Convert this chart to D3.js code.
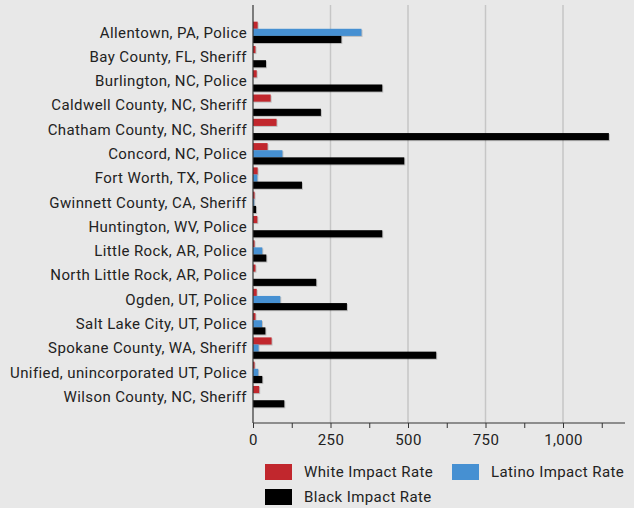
<!DOCTYPE html>
<html>
<head>
<meta charset="utf-8">
<script src="https://cdn.jsdelivr.net/npm/d3@7"></script>
<style>
  html, body { margin: 0; padding: 0; background: #e8e8e8; }
  svg { display: block; }
  text { font-family: Roboto, "DejaVu Sans", sans-serif; fill: #222; letter-spacing: 0.4px; }
</style>
</head>
<body>
<svg id="chart" width="634" height="508"></svg>
<script>
const categories = [
  "Allentown, PA, Police",
  "Bay County, FL, Sheriff",
  "Burlington, NC, Police",
  "Caldwell County, NC, Sheriff",
  "Chatham County, NC, Sheriff",
  "Concord, NC, Police",
  "Fort Worth, TX, Police",
  "Gwinnett County, CA, Sheriff",
  "Huntington, WV, Police",
  "Little Rock, AR, Police",
  "North Little Rock, AR, Police",
  "Ogden, UT, Police",
  "Salt Lake City, UT, Police",
  "Spokane County, WA, Sheriff",
  "Unified, unincorporated UT, Police",
  "Wilson County, NC, Sheriff"
];
const seriesNames = ["White Impact Rate", "Latino Impact Rate", "Black Impact Rate"];
const whiteRate  = [15, 8, 12, 57, 76, 47, 15, 5, 14, 5, 8, 12, 8, 60, 5, 20];
const latinoRate = [350, 0, 0, 0, 0, 95, 14, 4, 0, 30, 0, 88, 29, 18, 17, 0];
const blackRate  = [285, 42, 417, 219, 1148, 488, 158, 10, 417, 43, 204, 303, 40, 591, 30, 101];
const xTicks = [0, 250, 500, 750, 1000];
const colors = ["#c1272d", "#4690d2", "#000000"];

const svg = d3.select("#chart");
const x = d3.scaleLinear().domain([0, 1200]).range([253, 625]);
const y0 = d3.scaleBand().domain(categories).range([20.2, 408.8]).paddingInner(0.12).paddingOuter(0.06);
const y1 = d3.scaleBand().domain(seriesNames).range([0, y0.bandwidth()]);

const plotTop = 5, plotBottom = 423;

// gridlines
svg.append("g").selectAll("line").data(xTicks.slice(1)).join("line")
  .attr("x1", d => x(d)).attr("x2", d => x(d))
  .attr("y1", plotTop).attr("y2", plotBottom)
  .attr("stroke", "#c6c6c6").attr("stroke-width", 1.5);

const rows = categories.map((c, i) => ({ cat: c, vals: [whiteRate[i], latinoRate[i], blackRate[i]] }));

const groups = svg.append("g").selectAll("g").data(rows).join("g")
  .attr("transform", d => `translate(0,${y0(d.cat)})`);

// subtle shadow
groups.selectAll("rect.shadow").data(d => d.vals.map((v, k) => ({ v, k })).filter(d => d.v > 0)).join("rect")
  .attr("class", "shadow")
  .attr("x", x(0) + 1)
  .attr("y", d => y1(seriesNames[d.k]) + 1)
  .attr("width", d => x(d.v) - x(0))
  .attr("height", y1.bandwidth())
  .attr("fill", "rgba(0,0,0,0.18)");

groups.selectAll("rect.bar").data(d => d.vals.map((v, k) => ({ v, k }))).join("rect")
  .attr("class", "bar")
  .attr("x", x(0))
  .attr("y", d => y1(seriesNames[d.k]))
  .attr("width", d => Math.max(0, x(d.v) - x(0)))
  .attr("height", y1.bandwidth())
  .attr("fill", d => colors[d.k]);

// category labels
svg.append("g").selectAll("text").data(categories).join("text")
  .attr("x", 247)
  .attr("y", d => y0(d) + y0.bandwidth() / 2)
  .attr("dy", "0.35em")
  .attr("text-anchor", "end")
  .attr("font-size", 15)
  .text(d => d);

// y axis line
svg.append("line")
  .attr("x1", x(0)).attr("x2", x(0))
  .attr("y1", plotTop).attr("y2", plotBottom)
  .attr("stroke", "#333").attr("stroke-width", 1.2);

// x axis
const xAxis = d3.axisBottom(x)
  .tickValues(d3.range(0, 1201, 125))
  .tickSize(5)
  .tickFormat(d => xTicks.includes(d) ? d3.format(",")(d) : "");
const gx = svg.append("g").attr("transform", `translate(0,${plotBottom})`).call(xAxis);
gx.select(".domain").attr("stroke", "#333").attr("stroke-width", 1.2).attr("d", `M${x(0)},0H${x(1200)}`);
gx.selectAll(".tick line").attr("stroke", "#333");
gx.selectAll(".tick text").attr("font-size", 15).attr("font-family", "Roboto, sans-serif").attr("fill", "#222").attr("dy", "0.9em");

// legend
const legendItems = [
  { name: seriesNames[0], color: colors[0], x: 265, y: 464 },
  { name: seriesNames[1], color: colors[1], x: 452, y: 464 },
  { name: seriesNames[2], color: colors[2], x: 265, y: 489 }
];
const lg = svg.append("g").selectAll("g").data(legendItems).join("g")
  .attr("transform", d => `translate(${d.x},${d.y})`);
lg.append("rect").attr("width", 27).attr("height", 16).attr("fill", d => d.color);
lg.append("text").attr("x", 39).attr("y", 8).attr("dy", "0.35em").attr("font-size", 15).text(d => d.name);
</script>
</body>
</html>
